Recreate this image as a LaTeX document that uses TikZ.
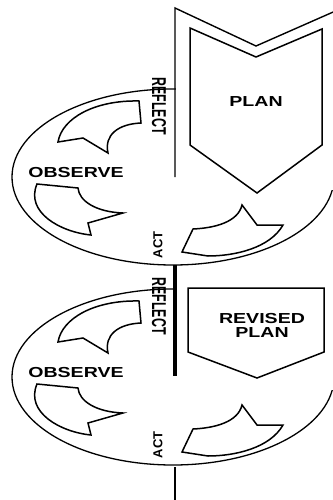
\documentclass[tikz,border=0pt]{standalone}
\usepackage{fontspec}
\setmainfont{Liberation Sans}
\usetikzlibrary{positioning}

\begin{document}
\begin{tikzpicture}[x=1pt, y=-1pt, line join=miter,
    ring/.style={draw, line width=1.3pt},
    turn/.style={draw, line width=1.5pt, fill=white},
    lbl/.style={font=\bfseries\fontsize{14.5}{14}\selectfont, inner sep=0pt, transform shape, xscale=1.35},
    sidelbl/.style={font=\bfseries\fontsize{20}{20}\selectfont, inner sep=0pt, transform shape, rotate=-90, xscale=0.62},
    actlbl/.style={font=\bfseries\fontsize{13}{13}\selectfont, inner sep=0pt, transform shape, rotate=90}]
  \useasboundingbox (0,0) rectangle (332,500);
  \fill[white] (0,0) rectangle (332,500);

  % the two turns of the cycle
  \foreach \n/\dy in {1/0,2/200}{
    \begin{scope}[shift={(0,\dy)}]
      \draw[ring] (173,177) ellipse [x radius=161, y radius=88];
      \fill[white] (176,68) rectangle (340,190);
      \draw[turn] (139,101) -- (141,123) .. controls (118,124) and (104,135) .. (108,153)
        -- (83,138) -- (58,142) .. controls (62,118) and (95,100) .. cycle;
      \draw[turn] (37,184) -- (78,188) .. controls (79,201) and (96,212) .. (123,213)
        -- (88,223) -- (91,235) .. controls (60,232) and (25,212) .. cycle;
      \draw[turn] (182,252) -- (193,229) .. controls (215,228) and (238,222) .. (242,205)
        -- (257,225) -- (283,225) .. controls (270,248) and (235,256) .. (208,256) -- cycle;
      \node[lbl] (observe\n) at (76,173) {OBSERVE};
      \node[sidelbl] (reflect\n) at (159,106) {REFLECT};
      \node[actlbl] (act\n) at (158,245) {ACT};
    \end{scope}
  }

  % plan
  \draw[line width=1.4pt] (175,177) -- (175,8) -- (256,46) -- (340,9);
  \draw[turn] (190,28) -- (256,57) -- (322,29) -- (322,145) -- (257,193) -- (190,145) -- cycle;
  \node[lbl] (plan) at (256,102) {PLAN};

  % revised plan
  \draw[line width=3.5pt] (175,265) -- (175,376);
  \draw[line width=2.5pt] (175,467) -- (175,500);
  \draw[turn] (188,288) -- (324,288) -- (324,352) -- (257,378) -- (188,352) -- cycle;
  \node[lbl, align=center] (revplan) at (262,325) {REVISED\\PLAN};
\end{tikzpicture}
\end{document}
